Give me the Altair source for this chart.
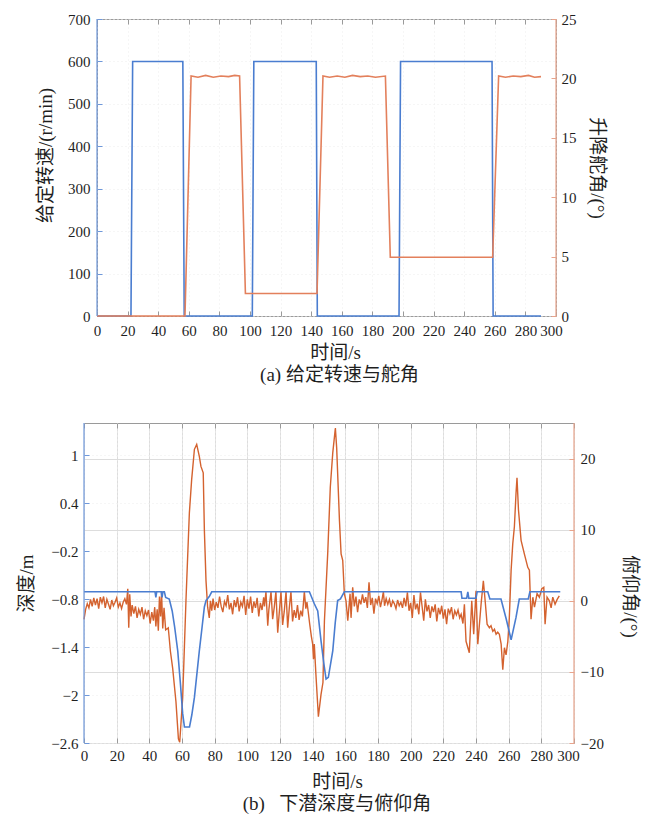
import altair as alt
import pandas as pd

# ---------------- (a) commanded propeller speed and elevator angle ----------------
speed_t = [0, 22.2, 23.3, 56.1, 57.0, 101.5, 102.5, 143.3, 144.0, 197.4, 198.4, 258.2, 258.9, 290.2]
speed_v = [0, 0, 600, 600, 0, 0, 600, 600, 0, 0, 600, 600, 0, 0]

rudder_t = [0, 57.5, 61.5, 66, 71, 76, 81, 86, 90, 93.2, 97.0, 143.8,
            147.7, 152, 157, 162, 167, 172, 177, 182, 188.5, 191.7, 258.6,
            262.5, 267, 272, 277, 282, 286, 290.2]
rudder_v = [0, 0, 20.2, 20.1, 20.25, 20.1, 20.2, 20.15, 20.25, 20.2, 1.9, 1.9,
            20.2, 20.1, 20.2, 20.1, 20.25, 20.15, 20.2, 20.1, 20.2, 4.95, 4.95,
            20.2, 20.1, 20.2, 20.15, 20.25, 20.1, 20.15]

# ---------------- (b) diving depth and pitch angle ----------------
depth_t = [0, 43.5, 44.0, 44.5, 47.3, 47.8, 48.3, 49.2, 50.0, 52.2, 54.0, 55.5,
           57.4, 59.0, 60.4, 61.5, 64.6, 66.0, 67.6, 70.6, 72.3, 73.7, 74.7,
           76.7, 78.2, 138.0, 141.0, 143.1, 145.1, 146.8, 148.2, 149.6, 152.3,
           153.8, 155.3, 157.0, 159.4, 230.9, 231.4, 234.3, 235.0, 235.6, 240.0,
           240.7, 247.2, 248.5, 255.3, 258.5, 261.5, 264.5, 266.5, 272.0, 273.0, 291.6]
depth_v = [-0.71, -0.71, -0.78, -0.71, -0.71, -0.78, -0.71, -0.71, -0.78, -0.8, -0.95, -1.15,
           -1.45, -1.85, -2.23, -2.4, -2.4, -2.25, -2.03, -1.45, -1.15, -0.9, -0.82,
           -0.77, -0.71, -0.71, -0.86, -0.95, -1.32, -1.6, -1.8, -1.78, -1.45,
           -1.1, -0.82, -0.8, -0.71, -0.71, -0.79, -0.79, -0.71, -0.79, -0.79,
           -0.71, -0.71, -0.8, -0.8, -1.05, -1.31, -1.03, -0.8, -0.8, -0.71, -0.71]

pitch_t = [0, 1, 2, 3, 4, 5, 6, 7, 8, 9, 10, 11, 12, 13, 14, 15, 16, 17, 18, 19,
           20, 21, 22, 23, 24, 25, 26, 26.8, 27.4, 28, 28.8, 29.5, 30.5, 31.5, 32.5,
           33.5, 34.5, 35.5, 36.5, 37.5, 38.5, 39.5, 40.5, 41.5, 42.5, 43.3, 44,
           44.8, 45.5, 46.2, 46.9, 47.5, 48.2, 49, 50, 51.6, 52.9, 54.3, 56.3, 57.8,
           58.6, 60.4, 62.5, 64.5, 65.9, 67.6, 69.0, 70.6, 71.6, 73.0, 73.7, 74.7,
           75.7, 76.7, 77.4, 78.2,
           79, 80, 81, 82, 83, 84, 85, 86, 87, 88, 89, 90, 91, 92, 93, 94, 95, 96,
           97, 98, 99, 100, 101, 102, 103, 104, 105, 106, 107, 108, 109, 110,
           110.5, 111.4, 112.5, 113.2, 114.5, 115.5, 116.5, 117.5, 118.6, 119.5,
           120.6, 121.6, 122.6, 123.7, 124.7, 125.7, 126.7, 127.7, 128.7, 129.7,
           130.7, 131.7, 132.7, 133.7, 134.9, 135.8, 136.5, 137.2, 138.2, 139.2,
           140, 140.5, 141, 142, 143.5, 145.1, 146.3, 147.2, 149.2, 150.8, 152.3,
           153.9, 154.7, 156.4, 157.4, 158.4, 159.4, 160.4, 161.5, 162.9, 163.5,
           164.5, 165.5, 166.5, 167.5, 168.5, 169.5, 170.5, 171.5, 172.5, 173.5,
           174.5, 175.5, 176.5, 177.5, 178.5, 179.5, 180.5, 181.5, 182.5, 183.3,
           184, 185, 186, 187, 188, 189, 190, 191, 192, 193, 194, 195, 196, 197,
           198, 199, 200, 201, 202, 203, 204, 205, 206, 207, 208, 209, 210, 211,
           212, 213, 214, 215, 216, 217, 218, 219, 220, 221, 222, 223, 224, 225,
           226, 227, 228, 229, 230, 230.9, 232, 232.9, 233.9, 235.9, 237.4, 238.6,
           240, 241.1, 243.1, 244.5, 245.6, 246.8, 248.2, 249.2, 250.3, 251.3,
           252.3, 253.3, 254.3, 255.4, 256.4, 257.4, 258.4, 259.5, 260.4, 261.5,
           262.5, 263.5, 264.5, 265.1, 266, 267.6, 269.6, 271.7, 272.7, 273.7,
           274.8, 275.8, 277.4, 278.8, 280.3, 281.5, 282.3, 283.5, 284.9, 286,
           287, 288.4, 289.7, 291]
pitch_v = [-2.6, -1.2, -0.4, -1.0, 0.2, -0.8, 0.4, -0.6, 0.3, -1.1, 0.5, -0.3, 0.6, -1.0, 0.2, -0.5, -1.2, 0.1, -0.7, -0.2,
           0.4, -0.9, -0.3, -1.1, -0.2, 0.3, -0.5, 1.7, -3.8, 0.9, -2.2, -0.6, -1.8, -0.8, -2.4,
           -1.2, -1.9, -0.9, -2.6, -1.4, -2.1, -1.3, -3.2, -1.6, -2.8, -0.9, -3.6,
           -1.2, -4.2, 0.6, -2.2, 1.2, -3.9, -1.0, -4.1, -3.8, -7.1, -9.5, -14.2, -19.4,
           -19.9, -13.7, 0.5, 12.3, 17.0, 21.3, 22.0, 20.3, 18.9, 18.0, 9.9, 2.8,
           -0.9, -2.4, 0.0, -1.4,
           0.3, -1.3, -0.2, -1.0, 0.6, -0.8, -1.6, -0.1, -0.7, 0.8, -1.2, -0.3, -1.9, 0.1, -0.9, 0.5, -1.5, -0.2,
           -0.8, 0.7, -2.0, 0.2, -1.1, 0.6, -1.7, -0.1, -1.0, 0.4, -2.2, -0.3, -1.3, 0.5,
           -0.8, 1.3, -3.5, -1.2, 1.3, -2.6, -0.9, 1.3, -4.5, -1.8,
           1.3, -3.4, -1.5, 1.3, -3.8, -1.0, 1.3, -2.9, -1.3, -2.4,
           -0.6, -2.7, -1.4, -2.2, 1.3, -1.1, -0.2, -1.4, -3.3, -5.0,
           -6.1, -8.2, -6.1, -10.4, -16.3, -13.2, -11.5, -2.8, 6.6, 16.0, 20.8,
           24.3, 21.5, 11.3, 6.6, 5.7, 1.0, 0.0, -2.8, 1.0, -2.4,
           1.9, -0.8, 0.6, -1.6, 0.2, -0.5, 0.9, -0.3, 0.5, -1.0,
           2.6, -0.6, 0.4, -1.8, 0.3, -0.4, 0.7, -0.9, 0.2, 1.3,
           -0.7, 0.3, -0.5, 0.2, -0.9, 0.0, -0.4, -1.1, 0.1, -0.7, -0.2, -1.0, 0.4, -0.8,
           1.2, -1.4, -0.3, -2.4, 0.8, -1.2, -0.4, -1.9, 1.2, -0.8, -2.8, 0.2, -1.5, -0.6,
           -2.4, -0.8, -1.6, -0.5, -2.9, -1.0, -1.9, -0.7, -2.5, -1.2, -3.3, -1.1, -1.8, -0.9,
           -2.6, -1.4, -2.0, -1.3, -2.4, -1.9, -3.2, -0.5, -5.7, -7.3, 0.0, -4.7,
           1.4, -6.1, -0.5, 2.8, 0.0, -3.3, -3.8, -3.5, -4.3, -4.0,
           -4.7, -4.4, -4.7, -6.1, -9.7, -6.6, -7.6, -5.7, -2.4, 4.3,
           8.0, 10.4, 15.1, 17.3, 12.8, 8.5, 6.6, 4.7, 4.3, -2.6,
           0.5, -0.9, 1.0, 0.5, 1.7, 1.9, -3.3, 0.5, 0.0, -1.0,
           0.5, -0.5, 0.2, 0.7]

x_ticks = list(range(0, 301, 20))
speed_ticks = list(range(0, 701, 100))
rudder_ticks = [0, 5, 10, 15, 20, 25]
depth_ticks = [-2.6, -2, -1.4, -0.8, -0.2, 0.4, 1]
pitch_ticks = [-20, -10, 0, 10, 20]

# ---------------- styling ----------------
FONT = "Liberation Serif, DejaVu Serif, Noto Sans CJK SC, serif"
INK = "#1f1f1f"
BLUE = "#4a7dd0"
ORANGE_A = "#e3805c"
ORANGE_B = "#d4622f"
BLUE_AX = "#6f98da"
ORANGE_AX = "#e8a48c"
FRAME = "#9a9a9a"
GRID = "#ececec"

W1, H1 = 459, 297
W2, H2 = 490, 320


def axis(orient, values, color, fmt, **extra):
    # inward ticks: the axis line is pulled 5px inside and ticks point back out to the frame
    return alt.Axis(orient=orient, values=values, format=fmt, offset=-5, tickSize=5,
                    tickColor=color, tickWidth=1, domain=False, labelFont=FONT,
                    labelFontSize=15, labelColor=INK, labelFlush=False,
                    labelOverlap=False, titleFont=FONT, titleFontSize=19,
                    titleFontWeight="normal", titleColor=INK, **extra)


def last_label_shift(px):
    # the 300 label is nudged left, clear of the right-hand axis labels
    return dict(
        labelOffset={"condition": {"test": "datum.value == 300", "value": px}, "value": 0},
    )


x_scale = alt.Scale(domain=[0, 300], nice=False, zero=False)
one_row = pd.DataFrame({"k": [0]})


def edge(x_px, h, color):
    return alt.Chart(one_row).mark_rule(color=color, strokeWidth=1.2).encode(
        x=alt.value(x_px), y=alt.value(0), y2=alt.value(h))


# ---------------- panel (a) ----------------
speed_df = pd.DataFrame({"t": speed_t, "v": speed_v})
rudder_df = pd.DataFrame({"t": rudder_t, "v": rudder_v})

speed_line = alt.Chart(speed_df).mark_line(color=BLUE, strokeWidth=1.6).encode(
    x=alt.X("t:Q", scale=x_scale,
            axis=axis("bottom", x_ticks, FRAME, "d", title="时间/s", labelPadding=7,
                      titleX=238, titleY=41, titleBaseline="middle",
                      grid=True, gridColor=GRID, gridDash=[1, 3], **last_label_shift(-5))),
    y=alt.Y("v:Q", scale=alt.Scale(domain=[0, 700], nice=False),
            axis=axis("left", speed_ticks, BLUE_AX, "d", title="给定转速/(r/min)",
                      labelPadding=7, titleX=-57, titleY=136, titleBaseline="middle",
                      grid=True, gridColor=GRID, gridDash=[1, 3])),
)

rudder_line = alt.Chart(rudder_df).mark_line(color=ORANGE_A, strokeWidth=1.6).encode(
    x=alt.X("t:Q", scale=x_scale,
            axis=axis("top", x_ticks, FRAME, "d", labels=False, title=None)),
    y=alt.Y("v:Q", scale=alt.Scale(domain=[0, 25], nice=False),
            axis=axis("right", rudder_ticks, ORANGE_AX, "d", title="升降舵角/(°)",
                      labelPadding=5, titleX=45, titleBaseline="middle")),
)

panel_a = alt.layer(
    speed_line, rudder_line, edge(0, H1, BLUE_AX), edge(W1, H1, ORANGE_AX)
).resolve_scale(y="independent").resolve_axis(x="independent", y="independent").properties(
    width=W1, height=H1,
    title=alt.TitleParams("(a) 给定转速与舵角", orient="bottom", anchor="middle", dx=13,
                          offset=4, font=FONT, fontSize=19, fontWeight="normal", color=INK),
)

# narrow blank column so panel (a) sits further right than panel (b)
spacer = alt.Chart(one_row).mark_point(opacity=0).encode(
    x=alt.X("k:Q", axis=None), y=alt.Y("k:Q", axis=None)
).properties(width=13, height=H1, view=alt.ViewBackground(stroke="transparent"))

row_a = alt.hconcat(spacer, panel_a, spacing=0, bounds="flush")

# ---------------- panel (b) ----------------
depth_df = pd.DataFrame({"t": depth_t, "v": depth_v})
pitch_df = pd.DataFrame({"t": pitch_t, "v": pitch_v})

pitch_line = alt.Chart(pitch_df).mark_line(color=ORANGE_B, strokeWidth=1.4).encode(
    x=alt.X("t:Q", scale=x_scale,
            axis=axis("top", x_ticks, FRAME, "d", labels=False, title=None)),
    y=alt.Y("v:Q", scale=alt.Scale(domain=[-20, 25], nice=False),
            axis=axis("right", pitch_ticks, ORANGE_AX, "d", title="俯仰角/(°)",
                      labelPadding=6, titleX=60, titleY=173, titleBaseline="middle")),
)

depth_line = alt.Chart(depth_df).mark_line(color=BLUE, strokeWidth=1.6).encode(
    x=alt.X("t:Q", scale=x_scale,
            axis=axis("bottom", x_ticks, FRAME, "d", title="时间/s", labelPadding=5,
                      titleX=253, titleY=43, titleBaseline="middle",
                      grid=True, gridColor=GRID, gridDash=[1, 3], **last_label_shift(-6))),
    y=alt.Y("v:Q", scale=alt.Scale(domain=[-2.6, 1.4], nice=False),
            axis=axis("left", depth_ticks, BLUE_AX, "~g", title="深度/m",
                      labelPadding=6, titleX=-63, titleBaseline="middle",
                      grid=True, gridColor=GRID, gridDash=[1, 3])),
)

panel_b = alt.layer(
    pitch_line, depth_line, edge(0, H2, BLUE_AX), edge(W2, H2, ORANGE_AX)
).resolve_scale(y="independent").resolve_axis(x="independent", y="independent").properties(
    width=W2, height=H2,
    title=alt.TitleParams("(b)\u2002\u00a0下潜深度与俯仰角", orient="bottom", anchor="middle",
                          dx=8, offset=4, font=FONT, fontSize=19, fontWeight="normal", color=INK),
)

chart = alt.vconcat(row_a, panel_b, spacing=35).properties(
    padding={"left": 16, "top": 11, "right": 5, "bottom": 3},
    background="white",
).configure_view(stroke=FRAME, strokeWidth=1)

chart.save("out.html", embed_options={"renderer": "svg", "actions": False})
